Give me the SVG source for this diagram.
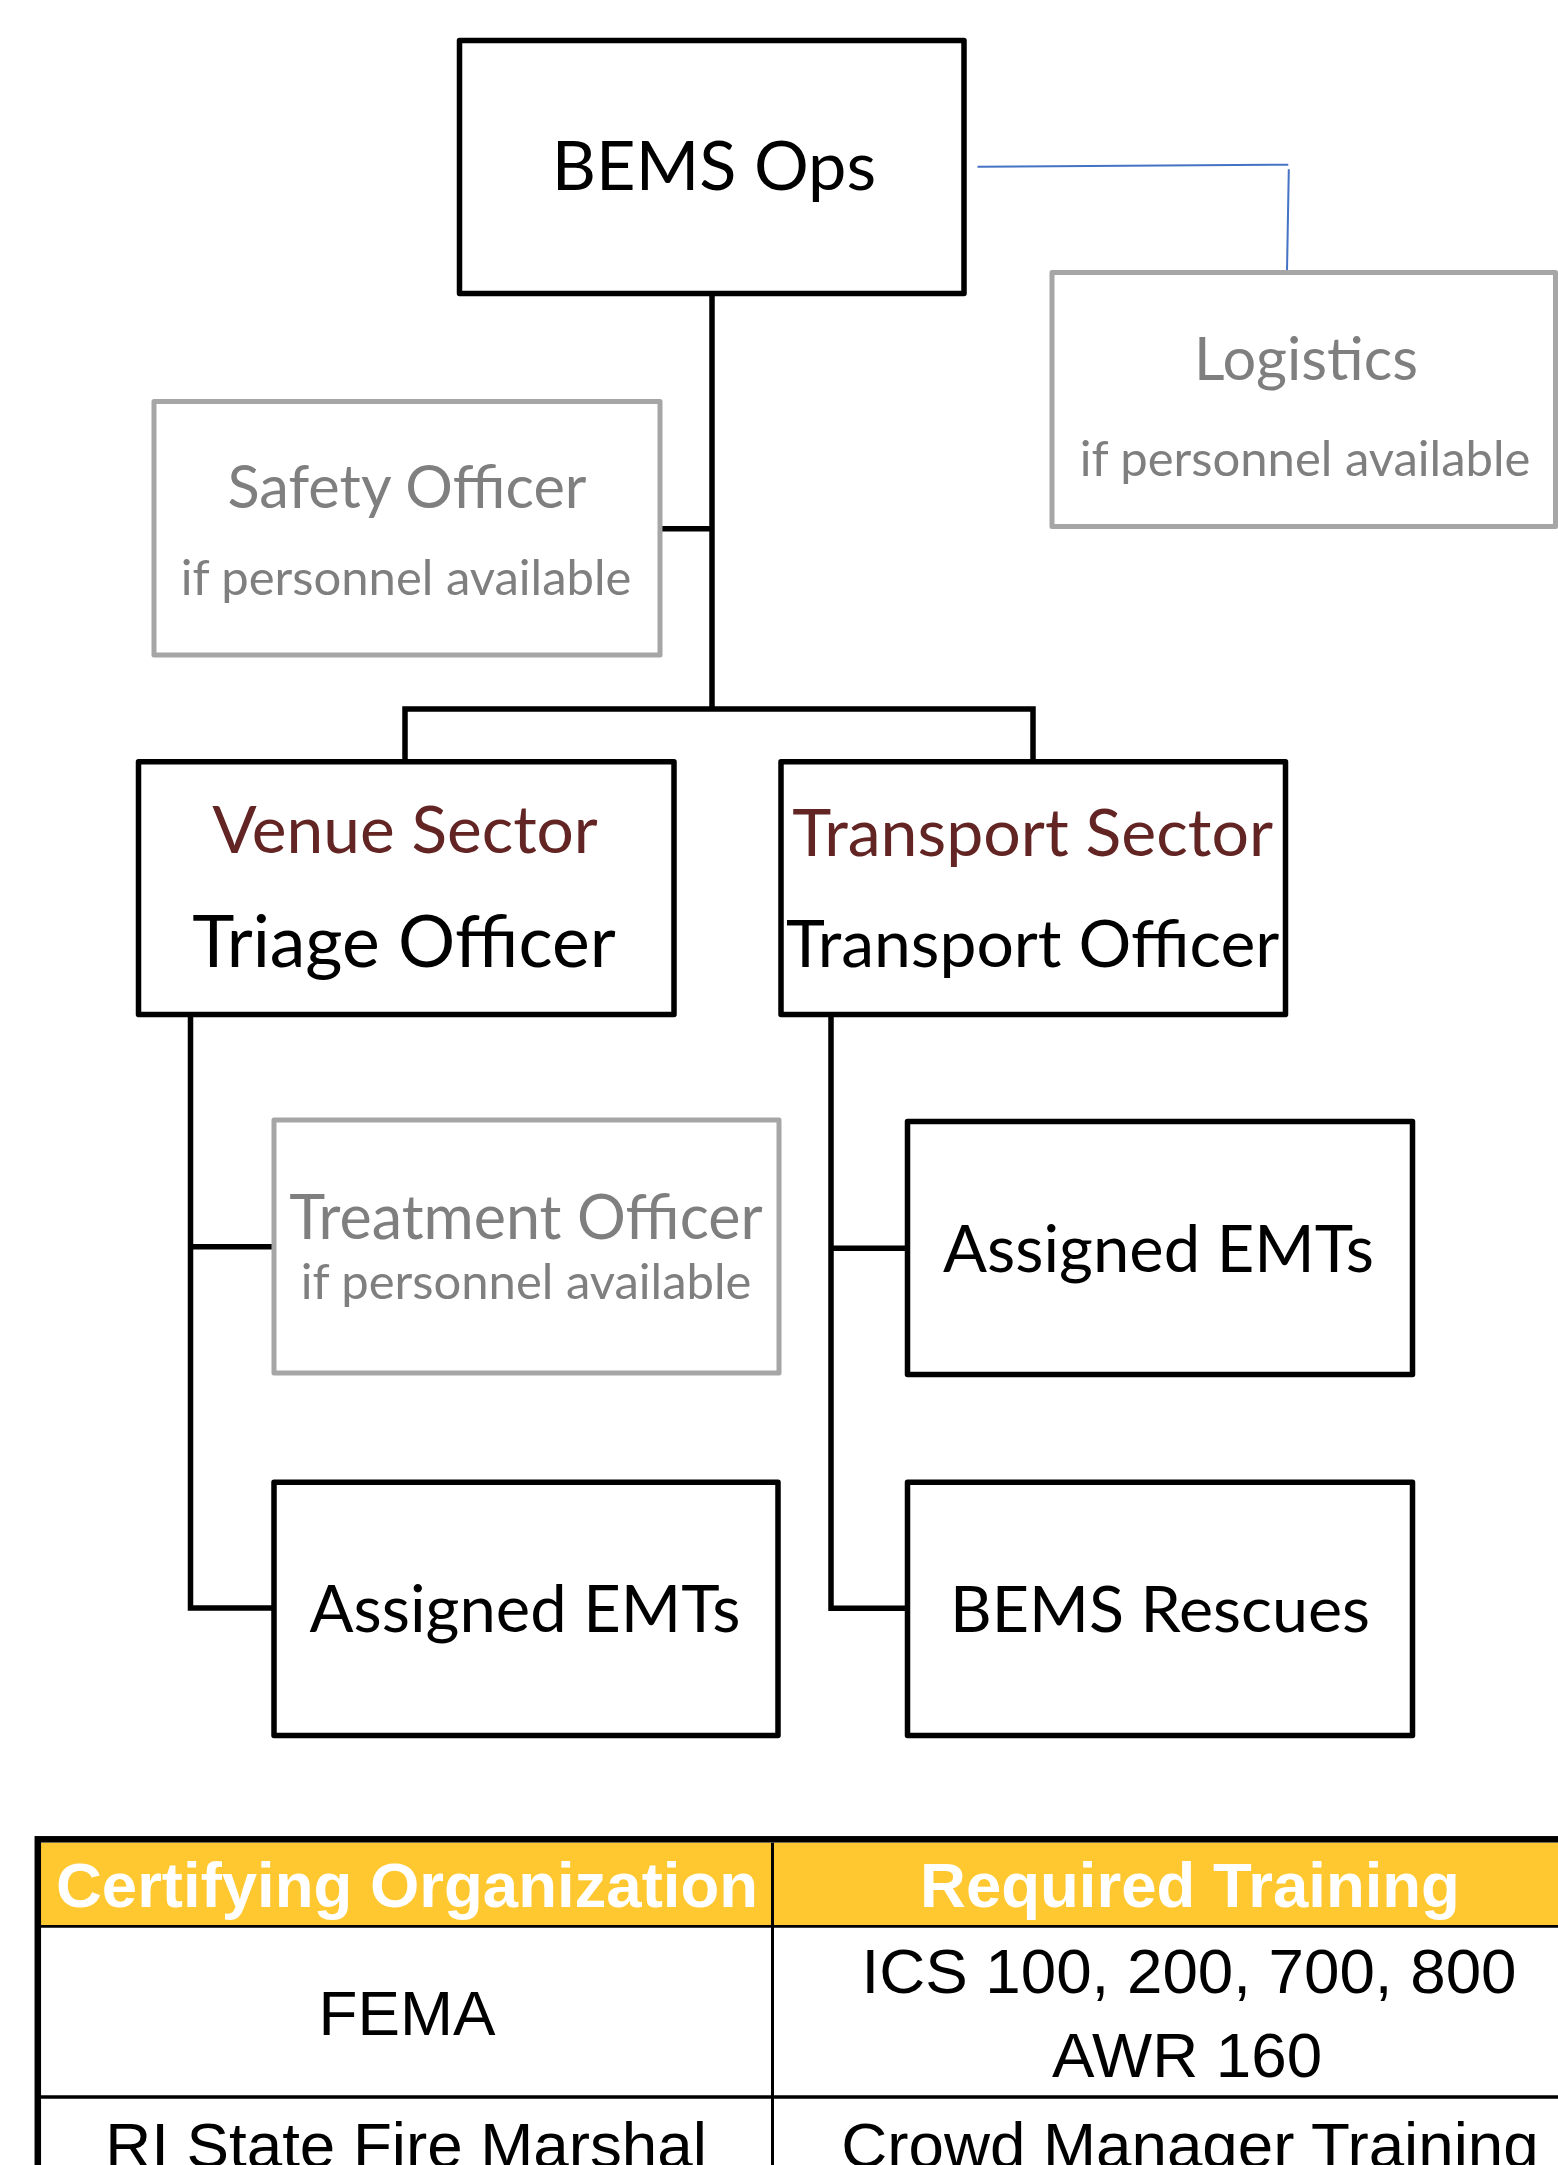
<svg xmlns="http://www.w3.org/2000/svg" width="1558" height="2165" viewBox="0 0 1558 2165">
  <style>
    .box { fill: #ffffff; stroke: #000000; stroke-width: 5.5; stroke-linejoin: round; }
    .opt { fill: #ffffff; stroke: #A6A6A6; stroke-width: 5; stroke-linejoin: round; }
    .wire { fill: none; stroke: #000000; stroke-width: 5.5; stroke-linejoin: miter; stroke-linecap: butt; }
    .aux { fill: none; stroke: #4472C4; stroke-width: 2; }
    .lbl { font-family: Lato, "Liberation Sans", sans-serif; text-anchor: middle; fill: #000000; }
    .gtitle { fill: #7F7F7F; }
    .gsub { font-size: 49px; fill: #7F7F7F; }
    .sector { fill: #632523; }
    .th { font-family: "Liberation Sans", Arial, sans-serif; font-weight: bold; font-size: 63.5px; fill: #ffffff; text-anchor: middle; }
    .td { font-family: "Liberation Sans", Arial, sans-serif; font-size: 63.7px; fill: #000000; text-anchor: middle; }
  </style>

  <rect x="0" y="0" width="1558" height="2165" fill="#ffffff"/>

  <!-- connectors -->
  <g id="connectors">
    <path class="wire" d="M712,293.5 V709"/>
    <path class="wire" d="M660,528.7 H712"/>
    <path class="wire" d="M405,761.7 V709 H1033 V761.7"/>
    <path class="wire" d="M190.5,1014.5 V1608 H274"/>
    <path class="wire" d="M190.5,1246.7 H274"/>
    <path class="wire" d="M831,1014.5 V1608.3 H907.5"/>
    <path class="wire" d="M831,1248.3 H907.5"/>
    <line class="aux" x1="977.5" y1="166.7" x2="1288.3" y2="164.7"/>
    <line class="aux" x1="1288.8" y1="169.3" x2="1287" y2="271"/>
  </g>

  <g id="bems-ops">
    <rect class="box" x="459.5" y="40.5" width="504.5" height="253"/>
    <text class="lbl" x="714" y="190" font-size="68.5">BEMS Ops</text>
  </g>

  <g id="logistics">
    <rect class="opt" x="1052" y="272.5" width="503.5" height="254"/>
    <text class="lbl gtitle" x="1306" y="380" font-size="59.5">Logistics</text>
    <text class="lbl gsub" x="1305" y="476">if personnel available</text>
  </g>

  <g id="safety-officer">
    <rect class="opt" x="154" y="401.5" width="506" height="253.5"/>
    <text class="lbl gtitle" x="407" y="508" font-size="59.5">Safety Officer</text>
    <text class="lbl gsub" x="406" y="595">if personnel available</text>
  </g>

  <g id="venue-sector">
    <rect class="box" x="138.5" y="761.7" width="535.5" height="252.8"/>
    <text class="lbl sector" x="405" y="853" font-size="65.8">Venue Sector</text>
    <text class="lbl" x="404" y="966.5" font-size="71.5">Triage Officer</text>
  </g>

  <g id="transport-sector">
    <rect class="box" x="781" y="761.7" width="504.5" height="252.8"/>
    <text class="lbl sector" x="1032.7" y="856" font-size="66.2">Transport Sector</text>
    <text class="lbl" x="1032.7" y="967" font-size="66">Transport Officer</text>
  </g>

  <g id="treatment-officer">
    <rect class="opt" x="274" y="1120" width="505" height="253"/>
    <text class="lbl gtitle" x="526" y="1239" font-size="61">Treatment Officer</text>
    <text class="lbl gsub" x="526" y="1299">if personnel available</text>
  </g>

  <g id="venue-emts">
    <rect class="box" x="274" y="1482.3" width="504" height="253.2"/>
    <text class="lbl" x="525" y="1632" font-size="65.1">Assigned EMTs</text>
  </g>

  <g id="transport-emts">
    <rect class="box" x="907.5" y="1121.4" width="505" height="253.1"/>
    <text class="lbl" x="1158.5" y="1271.5" font-size="65.1">Assigned EMTs</text>
  </g>

  <g id="bems-rescues">
    <rect class="box" x="907.5" y="1482.3" width="505" height="253.2"/>
    <text class="lbl" x="1160" y="1632" font-size="64.6">BEMS Rescues</text>
  </g>

  <!-- training requirements table -->
  <g id="training-table">
    <rect x="37.8" y="1842.7" width="1600" height="83.6" fill="#FFC830"/>
    <line x1="37.8" y1="1926.3" x2="1640" y2="1926.3" stroke="#000000" stroke-width="2.8"/>
    <line x1="37.8" y1="2097" x2="1640" y2="2097" stroke="#000000" stroke-width="3.5"/>
    <line x1="772.5" y1="1842.7" x2="772.5" y2="2200" stroke="#000000" stroke-width="3"/>
    <rect x="37.8" y="1839.3" width="1600" height="400" fill="none" stroke="#000000" stroke-width="6.5"/>
    <text class="th" x="407" y="1907">Certifying Organization</text>
    <text class="th" x="1190" y="1907">Required Training</text>
    <text class="td" x="407" y="2035">FEMA</text>
    <text class="td" x="1189" y="1993">ICS 100, 200, 700, 800</text>
    <text class="td" x="1187" y="2077">AWR 160</text>
    <text class="td" x="406" y="2167">RI State Fire Marshal</text>
    <text class="td" x="1190" y="2167">Crowd Manager Training</text>
  </g>
</svg>
